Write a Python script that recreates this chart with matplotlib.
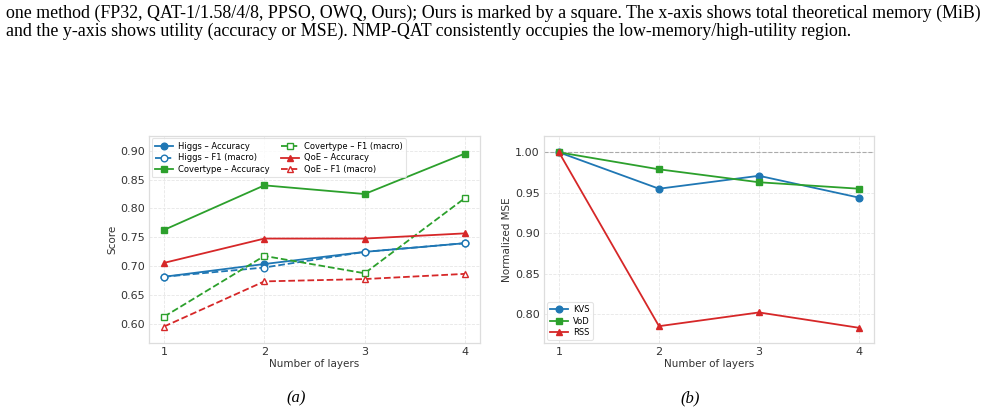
import matplotlib
matplotlib.use("Agg")
import matplotlib.pyplot as plt

layers = [1, 2, 3, 4]

higgs_acc = [0.682, 0.704, 0.725, 0.740]
higgs_f1 = [0.682, 0.698, 0.725, 0.740]
cover_acc = [0.763, 0.840, 0.825, 0.895]
cover_f1 = [0.613, 0.718, 0.688, 0.818]
qoe_acc = [0.706, 0.748, 0.748, 0.757]
qoe_f1 = [0.596, 0.674, 0.678, 0.687]

kvs = [1.000, 0.955, 0.971, 0.944]
vod = [1.000, 0.979, 0.963, 0.955]
rss = [1.000, 0.785, 0.802, 0.783]

caption_lines = [
    "one method (FP32, QAT-1/1.58/4/8, PPSO, OWQ, Ours); Ours is marked by a square. The x-axis shows total theoretical memory (MiB)",
    "and the y-axis shows utility (accuracy or MSE). NMP-QAT consistently occupies the low-memory/high-utility region.",
]

BLUE = "#1f77b4"
GREEN = "#2ca02c"
RED = "#d62728"

fig = plt.figure(figsize=(9.86, 4.15), dpi=100)

ax1 = fig.add_axes([149/986, 1-343/415, 331/986, 207/415])
ax2 = fig.add_axes([544/986, 1-343/415, 330/986, 207/415])

ms = 4.8
lw = 1.3
ax1.plot(layers, higgs_acc, color=BLUE, marker="o", ms=ms, lw=lw, label="Higgs – Accuracy")
ax1.plot(layers, higgs_f1, color=BLUE, marker="o", ms=ms, lw=lw, ls="--", mfc="white", label="Higgs – F1 (macro)")
ax1.plot(layers, cover_acc, color=GREEN, marker="s", ms=ms, lw=lw, label="Covertype – Accuracy")
ax1.plot(layers, cover_f1, color=GREEN, marker="s", ms=ms, lw=lw, ls="--", mfc="white", label="Covertype – F1 (macro)")
ax1.plot(layers, qoe_acc, color=RED, marker="^", ms=ms, lw=lw, label="QoE – Accuracy")
ax1.plot(layers, qoe_f1, color=RED, marker="^", ms=ms, lw=lw, ls="--", mfc="white", label="QoE – F1 (macro)")
ax1.set_ylim(0.5675, 0.9253)
ax1.set_yticks([0.60, 0.65, 0.70, 0.75, 0.80, 0.85, 0.90])
ax1.set_ylabel("Score", fontsize=7.5, labelpad=2)
leg1 = ax1.legend(ncol=2, loc="upper left", fontsize=6, frameon=True, handlelength=2.2,
                  borderpad=0.4, labelspacing=0.32, columnspacing=1.3, handletextpad=0.6,
                  borderaxespad=0.3)

ax2.axhline(1.0, color="#aaaaaa", lw=0.8, ls="--", zorder=1)
ax2.plot(layers, kvs, color=BLUE, marker="o", ms=ms, lw=lw, label="KVS")
ax2.plot(layers, vod, color=GREEN, marker="s", ms=ms, lw=lw, label="VoD")
ax2.plot(layers, rss, color=RED, marker="^", ms=ms, lw=lw, label="RSS")
ax2.set_ylim(0.7642, 1.0202)
ax2.set_yticks([0.80, 0.85, 0.90, 0.95, 1.00])
ax2.set_ylabel("Normalized MSE", fontsize=7.5, labelpad=2)
leg2 = ax2.legend(loc="lower left", fontsize=6, frameon=True, handlelength=2.2,
                  borderpad=0.35, labelspacing=0.3, handletextpad=0.6, borderaxespad=0.35)

for ax in (ax1, ax2):
    ax.set_xticks(layers)
    ax.set_xlabel("Number of layers", fontsize=7.5, labelpad=1)
    ax.tick_params(labelsize=8, length=0, pad=3, colors="#333333")
    ax.grid(True, color="#e6e6e6", ls="--", lw=0.6)
    ax.set_axisbelow(True)
    for s in ax.spines.values():
        s.set_color("#dddddd")
        s.set_linewidth(0.9)
    ax.xaxis.label.set_color("#333333")
    ax.yaxis.label.set_color("#333333")

for leg in (leg1, leg2):
    leg.get_frame().set_edgecolor("#dddddd")
    leg.get_frame().set_linewidth(0.8)

fig.text(6/986, 1-13/415, caption_lines[0], fontsize=12.9, family="Liberation Serif", va="center", ha="left")
fig.text(6/986, 1-31/415, caption_lines[1], fontsize=12.9, family="Liberation Serif", va="center", ha="left")

fig.text(296/986, 1-398/415, "(a)", fontsize=12, family="Liberation Serif", style="italic", ha="center", va="center")
fig.text(690/986, 1-398/415, "(b)", fontsize=12, family="Liberation Serif", style="italic", ha="center", va="center")

fig.savefig("out.png", dpi=100)
